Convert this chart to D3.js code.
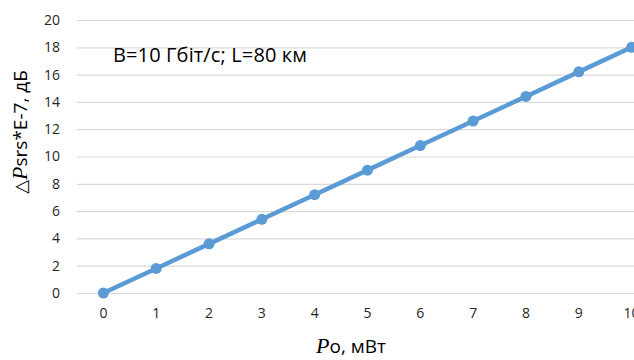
<!DOCTYPE html>
<html>
<head>
<meta charset="utf-8">
<script src="https://cdn.jsdelivr.net/npm/d3@7"></script>
<style>
  body { margin: 0; background: #fff; }
  svg { display: block; font-family: "Open Sans", "Noto Sans", sans-serif; }
</style>
</head>
<body>
<div id="chart"></div>
<script>
// Width and height of the figure
const width = 634;
const height = 360;

// Data
const powers = [0, 1, 2, 3, 4, 5, 6, 7, 8, 9, 10];
const deltaP = [0, 1.8, 3.6, 5.4, 7.2, 9.0, 10.8, 12.6, 14.4, 16.2, 18.0];
const yTicks = [0, 2, 4, 6, 8, 10, 12, 14, 16, 18, 20];
const note = "B=10 Гбіт/с; L=80 км";

const margin = {left: 77, top: 20, bottom: 67};
const plotW = 581; // plot runs past the right edge, like the original
const plotBottom = height - margin.bottom;

const x = d3.scaleBand()
    .domain(powers)
    .range([margin.left, margin.left + plotW]);
const y = d3.scaleLinear()
    .domain([0, 20])
    .range([plotBottom, margin.top]);

const svg = d3.create("svg")
    .attr("width", width)
    .attr("height", height);

// Gridlines
svg.append("g")
    .selectAll("line")
    .data(yTicks)
    .join("line")
    .attr("x1", margin.left)
    .attr("x2", margin.left + plotW)
    .attr("y1", d => y(d) + 0.5)
    .attr("y2", d => y(d) + 0.5)
    .attr("stroke", "#d9d9d9")
    .attr("stroke-width", 1.2);

// Y axis labels
const yAxis = svg.append("g")
    .attr("transform", `translate(${margin.left},0)`)
    .call(d3.axisLeft(y).tickValues(yTicks).tickSize(0).tickPadding(17));
yAxis.select(".domain").remove();
yAxis.selectAll("text")
    .attr("font-size", 14)
    .attr("font-family", "Open Sans, sans-serif")
    .attr("fill", "#262626");

// X axis labels
const xAxis = svg.append("g")
    .attr("transform", `translate(0,${plotBottom})`)
    .call(d3.axisBottom(x).tickSize(0).tickPadding(15));
xAxis.select(".domain").remove();
xAxis.selectAll("text")
    .attr("font-size", 14)
    .attr("font-family", "Open Sans, sans-serif")
    .attr("fill", "#262626");

// Line and markers
const cx = d => x(d) + x.bandwidth() / 2;
const line = d3.line()
    .x((d, i) => cx(powers[i]))
    .y(d => y(d));

svg.append("path")
    .datum(deltaP)
    .attr("d", line)
    .attr("fill", "none")
    .attr("stroke", "#5b9bd5")
    .attr("stroke-width", 4.5)
    .attr("stroke-linecap", "round");

svg.append("g")
    .selectAll("circle")
    .data(deltaP)
    .join("circle")
    .attr("cx", (d, i) => cx(powers[i]))
    .attr("cy", d => y(d))
    .attr("r", 5.5)
    .attr("fill", "#5b9bd5");

// Annotation
svg.append("text")
    .attr("x", 113)
    .attr("y", 62)
    .attr("font-size", 20)
    .attr("textLength", 194)
    .attr("font-family", "Open Sans, sans-serif")
    .attr("fill", "#000")
    .text(note);

// X axis title
const xt = svg.append("text")
    .attr("x", 351)
    .attr("y", 353)
    .attr("text-anchor", "middle")
    .attr("font-size", 19)
    .attr("fill", "#000");
xt.append("tspan")
    .attr("font-family", "Liberation Serif, serif")
    .attr("font-style", "italic")
    .attr("font-size", 22)
    .text("P");
xt.append("tspan")
    .attr("font-family", "Open Sans, sans-serif")
    .text("o, мВт");

// Y axis title
const yt = svg.append("text")
    .attr("transform", "translate(27,132) rotate(-90)")
    .attr("text-anchor", "middle")
    .attr("font-size", 19)
    .attr("fill", "#000");
yt.append("tspan")
    .attr("font-family", "DejaVu Sans, sans-serif")
    .attr("font-size", 18)
    .text("\u25B3");
yt.append("tspan")
    .attr("font-family", "Liberation Serif, serif")
    .attr("font-style", "italic")
    .attr("font-size", 22)
    .text("P");
yt.append("tspan")
    .attr("font-family", "Open Sans, sans-serif")
    .text("srs*E-7, дБ");

d3.select("#chart").append(() => svg.node());
</script>
</body>
</html>
